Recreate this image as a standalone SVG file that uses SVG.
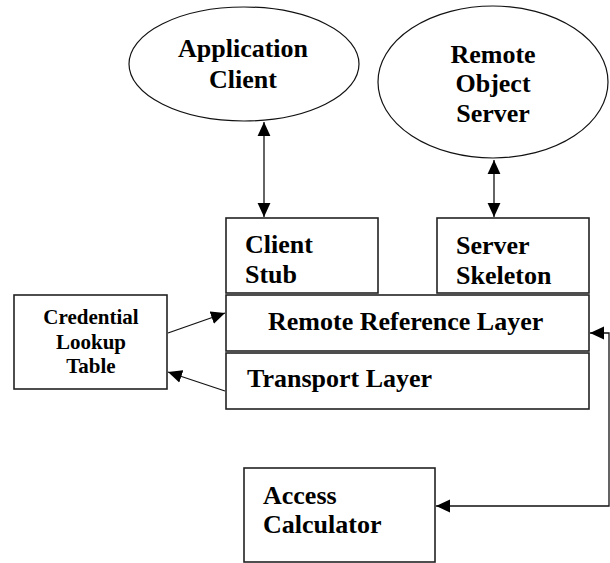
<svg xmlns="http://www.w3.org/2000/svg" width="610" height="563" viewBox="0 0 610 563">
<style>
.box{fill:#fff;stroke:#222;stroke-width:1.6}
.ell{fill:#fff;stroke:#111;stroke-width:1.2}
.t{font-family:"Liberation Serif","Times New Roman",serif;font-weight:bold;font-size:26px;fill:#000}
.ts{font-family:"Liberation Serif","Times New Roman",serif;font-weight:bold;font-size:21px;fill:#000}
.c{text-anchor:middle}
.con{fill:none;stroke:#111;stroke-width:1.3}
</style>
<defs>
<marker id="ah" markerUnits="userSpaceOnUse" markerWidth="14" markerHeight="14" viewBox="0 0 12 12" refX="12" refY="6" orient="auto-start-reverse">
<path d="M0,0.5 L12,6 L0,11.5 Z" fill="#000"/>
</marker>
</defs>
<rect width="610" height="563" fill="#fff"/>
<g id="connectors">
<line class="con" x1="264" y1="122" x2="264" y2="217" marker-start="url(#ah)" marker-end="url(#ah)"/>
<line class="con" x1="494" y1="160" x2="494" y2="217" marker-start="url(#ah)" marker-end="url(#ah)"/>
<line class="con" x1="168" y1="333" x2="225" y2="313" marker-end="url(#ah)"/>
<line class="con" x1="225" y1="391" x2="168" y2="372" marker-end="url(#ah)"/>
<polyline class="con" points="436,506 609,506 609,333 590,333" marker-start="url(#ah)" marker-end="url(#ah)"/>
</g>
<g id="application-client">
<ellipse class="ell" cx="244" cy="64" rx="115" ry="57"/>
<text class="t c" x="243" y="57">Application</text>
<text class="t c" x="243" y="88">Client</text>
</g>
<g id="remote-object-server">
<ellipse class="ell" cx="493" cy="82" rx="115" ry="76"/>
<text class="t c" x="493" y="63">Remote</text>
<text class="t c" x="493" y="92">Object</text>
<text class="t c" x="493" y="122">Server</text>
</g>
<g id="client-stub">
<rect class="box" x="226" y="218" width="152" height="75"/>
<text class="t" x="245" y="253">Client</text>
<text class="t" x="245" y="283">Stub</text>
</g>
<g id="server-skeleton">
<rect class="box" x="437" y="218" width="152" height="75"/>
<text class="t" x="456" y="254">Server</text>
<text class="t" x="456" y="284">Skeleton</text>
</g>
<g id="remote-reference-layer">
<rect class="box" x="226" y="295" width="363" height="56"/>
<text class="t" x="268" y="330">Remote Reference Layer</text>
</g>
<g id="transport-layer">
<rect class="box" x="226" y="353" width="363" height="56"/>
<text class="t" x="247" y="387">Transport Layer</text>
</g>
<g id="credential-lookup-table">
<rect class="box" x="14" y="295" width="153" height="94"/>
<text class="ts c" x="91" y="324">Credential</text>
<text class="ts c" x="91" y="349">Lookup</text>
<text class="ts c" x="91" y="373">Table</text>
</g>
<g id="access-calculator">
<rect class="box" x="244" y="468" width="191" height="94"/>
<text class="t" x="263" y="504">Access</text>
<text class="t" x="263" y="533">Calculator</text>
</g>
</svg>
